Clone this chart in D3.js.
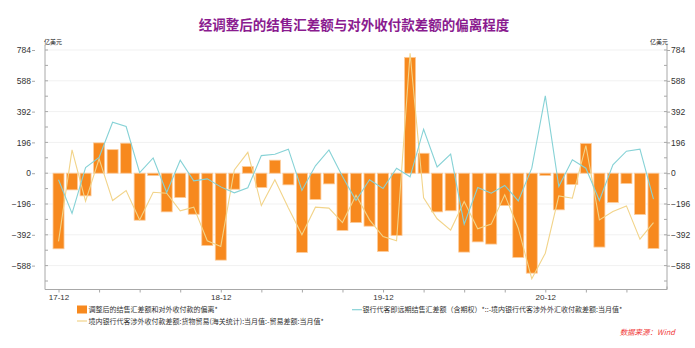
<!DOCTYPE html>
<html>
<head>
<meta charset="utf-8">
<script src="https://cdn.jsdelivr.net/npm/d3@7/dist/d3.min.js"></script>
<style>
  html, body { margin: 0; padding: 0; background: #fff; }
  svg { display: block; font-family: "Noto Sans CJK SC", "Noto Sans", sans-serif; }
</style>
</head>
<body>
<svg id="chart" width="695" height="348"></svg>
<script>
// Months from 2017-12 to 2021-08
const months = [
  "17-12","18-01","18-02","18-03","18-04","18-05","18-06","18-07","18-08","18-09","18-10","18-11",
  "18-12","19-01","19-02","19-03","19-04","19-05","19-06","19-07","19-08","19-09","19-10","19-11",
  "19-12","20-01","20-02","20-03","20-04","20-05","20-06","20-07","20-08","20-09","20-10","20-11",
  "20-12","21-01","21-02","21-03","21-04","21-05","21-06","21-07","21-08"
];

// 调整后的结售汇差额和对外收付款的偏离 (亿美元)
const deviation = [
  -481, -106, -144, 193, 150, 191, -299, -15, -246, -155, -261, -460,
  -553, -102, 42, -91, 83, -74, -504, -167, -68, -364, -314, -337,
  -498, -396, 737, 127, -246, -239, -502, -437, -451, -206, -536, -636,
  -15, -233, -72, 189, -470, -186, -66, -263, -479
];

// 银行代客即远期结售汇差额 - 涉外外汇收付款差额
const fxGap = [
  -42, -256, 36, 100, 324, 297, 4, 97, -123, 83, -49, -36,
  -87, -125, -93, 112, 121, 153, -110, 47, 148, -21, -174, -42,
  -97, 32, -23, 280, 40, 121, -324, -91, -127, -78, -176, 32,
  492, -85, 85, 32, -174, 53, 140, 153, -165
];

// 涉外收付款货物贸易差额 - 海关贸易差额
const tradeGap = [
  -434, 148, -178, 91, -174, -110, -297, -121, -127, -239, -216, -430,
  -466, 21, 133, -206, -42, -222, -392, -216, -222, -314, -140, -297,
  -403, -430, 763, -157, -290, -362, -180, -354, -324, -138, -350, -672,
  -509, -144, -159, 176, -297, -244, -208, -420, -314
];

const yTicks = [-588, -392, -196, 0, 196, 392, 588, 784];
const yMinorTicks = [-686, -588, -490, -392, -294, -196, -98, 0, 98, 196, 294, 392, 490, 588, 686, 784];
const xLabelMonths = ["17-12", "18-12", "19-12", "20-12"];

const legendItems = [
  "调整后的结售汇差额和对外收付款的偏离*",
  "银行代客即远期结售汇差额（含期权）*::-境内银行代客涉外外汇收付款差额:当月值*",
  "境内银行代客涉外收付款差额:货物贸易(海关统计):当月值:-贸易差额:当月值*"
];

const colors = {
  bar: "#F7891E",
  barEdge: "#FCCB9A",
  teal: "#86D2D6",
  yellow: "#F2D48A",
  axis: "#A8A8A8",
  grid: "#F1F1F1",
  text: "#333333",
  title: "#8A1B8F",
  source: "#F03A3A"
};

const svg = d3.select("#chart");
const plotLeft = 45, plotRight = 667, plotTop = 50, plotBottom = 289.5;

const x = d3.scalePoint().domain(months).range([plotLeft, plotRight]).padding(1);
const y = d3.scaleLinear().domain([-740, 784]).range([plotBottom, plotTop]);

// Title
svg.append("text")
  .attr("x", 354).attr("y", 30)
  .attr("text-anchor", "middle")
  .attr("font-size", 13.5).attr("font-weight", "bold")
  .attr("fill", colors.title)
  .text("经调整后的结售汇差额与对外收付款差额的偏离程度");

// Horizontal grid
svg.append("g").selectAll("line").data(yTicks).join("line")
  .attr("x1", plotLeft).attr("x2", plotRight)
  .attr("y1", d => y(d)).attr("y2", d => y(d))
  .attr("stroke", colors.grid).attr("stroke-width", 1);

// Bars
const barW = 11;
svg.append("g").selectAll("rect").data(deviation).join("rect")
  .attr("x", (d, i) => x(months[i]) - barW / 2)
  .attr("width", barW)
  .attr("y", d => y(Math.max(0, d)))
  .attr("height", d => Math.abs(y(d) - y(0)))
  .attr("fill", colors.bar)
  .attr("stroke", colors.barEdge)
  .attr("stroke-width", 0.8);

// Lines
const line = d3.line().x((d, i) => x(months[i])).y(d => y(d));
svg.append("path").datum(tradeGap)
  .attr("d", line).attr("fill", "none")
  .attr("stroke", colors.yellow).attr("stroke-width", 1.1);
svg.append("path").datum(fxGap)
  .attr("d", line).attr("fill", "none")
  .attr("stroke", colors.teal).attr("stroke-width", 1.1);

// Left axis
const leftAxis = svg.append("g").attr("transform", `translate(${plotLeft},0)`)
  .call(d3.axisLeft(y).tickValues(yTicks).tickSize(13).tickPadding(1).tickFormat(d3.format("d")));
leftAxis.select(".domain").remove();
leftAxis.selectAll(".tick line").attr("x1", -10).attr("stroke", colors.axis);
leftAxis.selectAll("text").attr("font-size", 8.5).attr("fill", colors.text)
  .attr("font-family", "'Liberation Sans', Arial, sans-serif");
leftAxis.append("line").attr("x1", 0).attr("x2", 0).attr("y1", 45).attr("y2", plotBottom)
  .attr("stroke", colors.axis);
leftAxis.append("g").selectAll("line").data(yMinorTicks).join("line")
  .attr("x1", 0).attr("x2", 3).attr("y1", d => y(d)).attr("y2", d => y(d))
  .attr("stroke", colors.axis);

// Right axis
const rightAxis = svg.append("g").attr("transform", `translate(${plotRight},0)`)
  .call(d3.axisRight(y).tickValues(yTicks).tickSize(3).tickPadding(1).tickFormat(d3.format("d")));
rightAxis.select(".domain").remove();
rightAxis.selectAll(".tick line").attr("stroke", colors.axis);
rightAxis.selectAll("text").attr("font-size", 8.5).attr("fill", colors.text)
  .attr("font-family", "'Liberation Sans', Arial, sans-serif");
rightAxis.append("line").attr("x1", 0).attr("x2", 0).attr("y1", 45).attr("y2", plotBottom)
  .attr("stroke", colors.axis);
rightAxis.append("g").selectAll("line").data(yMinorTicks).join("line")
  .attr("x1", 0).attr("x2", -3).attr("y1", d => y(d)).attr("y2", d => y(d))
  .attr("stroke", colors.axis);

// Unit labels
svg.append("text").attr("x", plotLeft - 1).attr("y", 44)
  .attr("font-size", 6).attr("fill", "#222").text("亿美元");
svg.append("text").attr("x", plotRight + 1).attr("y", 44).attr("text-anchor", "end")
  .attr("font-size", 6).attr("fill", "#222").text("亿美元");

// Bottom axis
const xAxis = svg.append("g").attr("transform", `translate(0,${plotBottom})`)
  .call(d3.axisBottom(x)
    .tickValues(months.filter((m, i) => i % 3 === 0))
    .tickSize(3).tickPadding(2)
    .tickFormat(m => xLabelMonths.includes(m) ? m : ""));
xAxis.select(".domain").attr("stroke", colors.axis).attr("d", `M${plotLeft},0H${plotRight}`);
xAxis.selectAll(".tick line").attr("stroke", colors.axis);
xAxis.selectAll("text").attr("font-size", 8).attr("fill", colors.text)
  .attr("font-family", "'Liberation Sans', Arial, sans-serif");
xAxis.append("line").attr("x1", plotRight).attr("x2", plotRight).attr("y1", 0).attr("y2", -3)
  .attr("stroke", colors.axis);

// Legend
const legend = svg.append("g").attr("font-size", 7).attr("fill", colors.text);
legend.append("rect").attr("x", 77).attr("y", 305.5).attr("width", 10).attr("height", 8)
  .attr("fill", colors.bar);
legend.append("text").attr("x", 88.5).attr("y", 312.3).text(legendItems[0]);
legend.append("line").attr("x1", 352).attr("x2", 362).attr("y1", 309.7).attr("y2", 309.7)
  .attr("stroke", colors.teal).attr("stroke-width", 1.2);
legend.append("text").attr("x", 362.5).attr("y", 312.3).text(legendItems[1]);
legend.append("line").attr("x1", 77).attr("x2", 87).attr("y1", 321).attr("y2", 321)
  .attr("stroke", colors.yellow).attr("stroke-width", 1.2);
legend.append("text").attr("x", 88.5).attr("y", 323.6).text(legendItems[2]);

// Source note
svg.append("text").attr("x", 675).attr("y", 334.5).attr("text-anchor", "end")
  .attr("font-size", 7.5).attr("font-style", "italic").attr("fill", colors.source)
  .text("数据来源：Wind");
</script>
</body>
</html>
